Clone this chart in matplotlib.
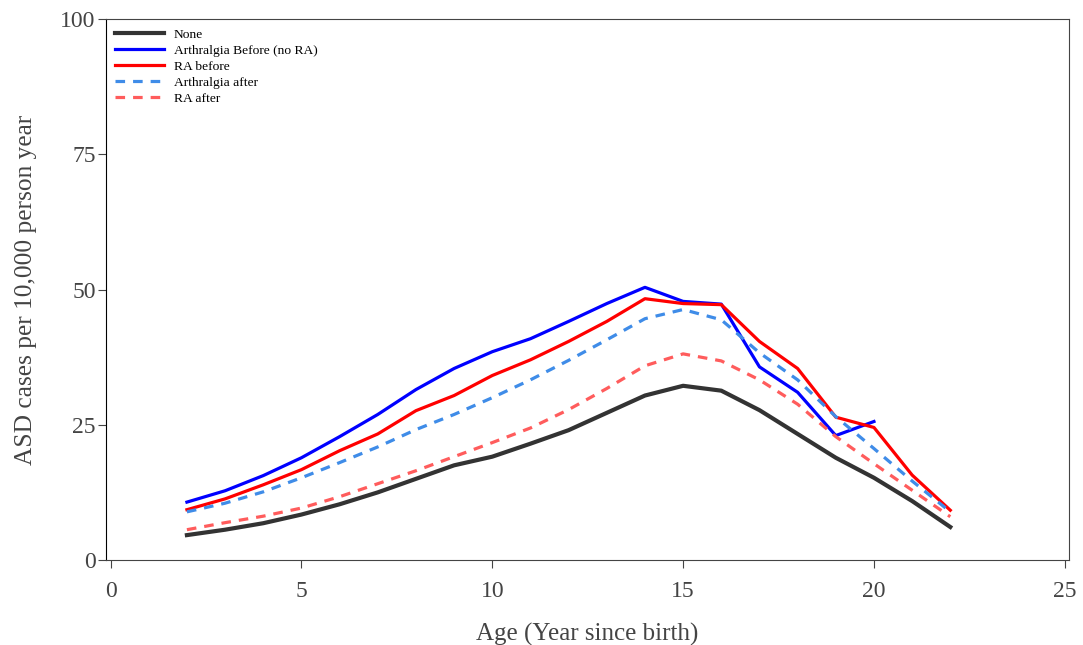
import matplotlib
matplotlib.use('Agg')
import matplotlib.pyplot as plt

age = [2, 3, 4, 5, 6, 7, 8, 9, 10, 11, 12, 13, 14, 15, 16, 17, 18, 19, 20, 21, 22]
none = [4.6, 5.6, 6.8, 8.4, 10.3, 12.5, 15.0, 17.5, 19.1, 21.5, 24.0, 27.2, 30.4, 32.2, 31.3, 27.7, 23.3, 18.9, 15.2, 10.9, 6.1]
age_arth = [2, 3, 4, 5, 6, 7, 8, 9, 10, 11, 12, 13, 14, 15, 16, 17, 18, 19, 20]
arth_before = [10.7, 12.8, 15.6, 18.9, 22.8, 26.9, 31.5, 35.4, 38.5, 40.9, 44.1, 47.4, 50.4, 47.8, 47.3, 35.7, 31.0, 23.0, 25.6]
ra_before = [9.3, 11.3, 13.9, 16.7, 20.2, 23.3, 27.6, 30.4, 34.1, 37.0, 40.4, 44.1, 48.3, 47.4, 47.2, 40.4, 35.4, 26.4, 24.5, 15.7, 9.2]
arth_after = [8.9, 10.5, 12.6, 15.2, 18.0, 20.9, 24.1, 26.9, 30.0, 33.3, 36.9, 40.7, 44.6, 46.3, 44.4, 38.3, 33.3, 26.5, 20.6, 14.6, 8.9]
ra_after = [5.6, 6.9, 8.1, 9.6, 11.7, 14.1, 16.5, 19.1, 21.7, 24.4, 27.8, 31.7, 35.9, 38.1, 36.8, 33.3, 28.8, 22.8, 17.8, 12.9, 8.0]

plt.rcParams['font.family'] = ['Liberation Serif', 'DejaVu Serif']

fig = plt.figure(figsize=(10.83, 6.45), dpi=100)
ax = fig.add_axes([106/1083, 1-560/645, (1069-106)/1083, (560-19)/645])

ax.plot(age, none, color='#333333', lw=3, label='None')
ax.plot(age_arth, arth_before, color='#0000ff', lw=2.3, label='Arthralgia Before (no RA)')
ax.plot(age, ra_before, color='#ff0000', lw=2.3, label='RA before')
ax.plot(age, arth_after, color='#3f8ce8', lw=2.3, ls=(0, (3, 2.5)), label='Arthralgia after')
ax.plot(age, ra_after, color='#ff5c5c', lw=2.3, ls=(0, (3, 2.5)), label='RA after')

ax.set_xlim(-0.12, 25.11)
ax.set_ylim(0, 100)
ax.set_xticks([0, 5, 10, 15, 20, 25])
ax.set_yticks([0, 25, 50, 75, 100])
ax.tick_params(labelsize=17, colors='#444444', length=6)
ax.tick_params(axis='x', pad=9)
ax.tick_params(axis='y', pad=1.5)
for s in ax.spines.values():
    s.set_color('#444444')
ax.spines['left'].set_color('black')
ax.set_xlabel('Age (Year since birth)', fontsize=18, color='#444444', labelpad=15)
ax.set_ylabel('ASD cases per 10,000 person year', fontsize=18.3, color='#444444', labelpad=17)

ax.legend(loc='upper left', frameon=False, fontsize=9.7, handlelength=3.6,
          labelspacing=0.27, borderaxespad=0.3, handletextpad=0.75)

fig.savefig('out.png', dpi=100)
